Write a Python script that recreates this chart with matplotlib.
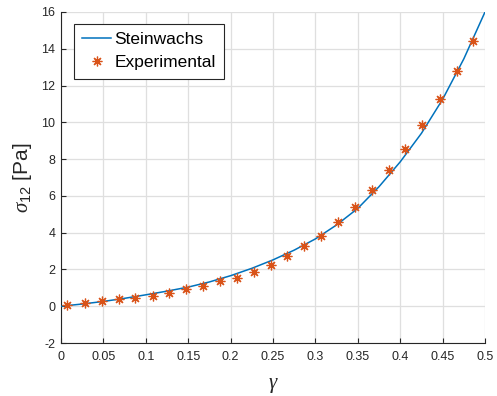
import numpy as np
import matplotlib
matplotlib.use("Agg")
import matplotlib.pyplot as plt

# Steinwachs model curve
gamma_model = [0, 0.025, 0.05, 0.075, 0.1, 0.125, 0.15, 0.175, 0.2, 0.225, 0.25,
               0.275, 0.3, 0.325, 0.35, 0.375, 0.4, 0.425, 0.45, 0.475, 0.5]
sigma_model = [0, 0.12, 0.26, 0.43, 0.62, 0.82, 1.04, 1.32, 1.66, 2.06, 2.52,
               3.05, 3.66, 4.42, 5.32, 6.50, 7.85, 9.40, 11.25, 13.45, 16.0]

# experimental points
gamma_exp = [0.007, 0.028, 0.048, 0.068, 0.087, 0.108, 0.127, 0.147, 0.168,
             0.187, 0.207, 0.228, 0.248, 0.267, 0.286, 0.307, 0.327, 0.347,
             0.367, 0.387, 0.406, 0.426, 0.447, 0.467, 0.486]
sigma_exp = [0.05, 0.15, 0.27, 0.38, 0.47, 0.58, 0.72, 0.91, 1.09, 1.36, 1.56,
             1.85, 2.22, 2.72, 3.27, 3.83, 4.59, 5.37, 6.31, 7.40, 8.56, 9.84,
             11.28, 12.78, 14.43]

xticks = [0, 0.05, 0.1, 0.15, 0.2, 0.25, 0.3, 0.35, 0.4, 0.45, 0.5]
xticklabels = ["0", "0.05", "0.1", "0.15", "0.2", "0.25", "0.3", "0.35", "0.4", "0.45", "0.5"]
yticks = [-2, 0, 2, 4, 6, 8, 10, 12, 14, 16]

plt.rcParams['font.family'] = ['Liberation Sans', 'DejaVu Sans']
plt.rcParams['mathtext.fontset'] = 'custom'
plt.rcParams['mathtext.rm'] = 'Liberation Sans'
plt.rcParams['mathtext.it'] = 'Liberation Serif:italic'
plt.rcParams['mathtext.sf'] = 'Liberation Sans'
plt.rcParams['axes.unicode_minus'] = False

fig = plt.figure(figsize=(4.97, 3.96), dpi=100)
ax = fig.add_axes([61 / 497, 1 - 343 / 396, 424 / 497, 331 / 396])

dark = '#262626'
ax.plot(gamma_model, sigma_model, color='#0072BD', lw=1.1, label='Steinwachs', zorder=3)
ax.plot(gamma_exp, sigma_exp, ls='none', marker=(8, 2, 0), markersize=7,
        markeredgewidth=0.9, color='#D95319', label='Experimental', zorder=4)

ax.set_xlim(0, 0.5)
ax.set_ylim(-2, 16)
ax.set_xticks(xticks)
ax.set_xticklabels(xticklabels)
ax.set_yticks(yticks)
ax.grid(True, color='#dfdfdf', lw=0.9)
ax.set_axisbelow(True)

for s in ['top', 'right']:
    ax.spines[s].set_visible(False)
for s in ['left', 'bottom']:
    ax.spines[s].set_color(dark)
    ax.spines[s].set_linewidth(0.8)
ax.tick_params(direction='in', length=3.5, width=0.8, color=dark,
               labelcolor=dark, labelsize=9)
ax.tick_params(axis='x', pad=6)
ax.tick_params(axis='y', pad=4)

ax.set_xlabel(r'$\gamma$', fontsize=15, color=dark, labelpad=9)
ax.set_ylabel(r'$\sigma_{\mathrm{12}}$ [Pa]', fontsize=15, color=dark, labelpad=5)

leg = ax.legend(loc='upper left', bbox_to_anchor=(13 / 424, 1 - 12 / 331),
                borderaxespad=0, fontsize=12.5, handlelength=1.65,
                handletextpad=0.2, labelspacing=0.45, borderpad=0.48,
                fancybox=False, framealpha=1, edgecolor=dark)
leg.get_frame().set_linewidth(0.8)

fig.savefig('out.png', dpi=100)
